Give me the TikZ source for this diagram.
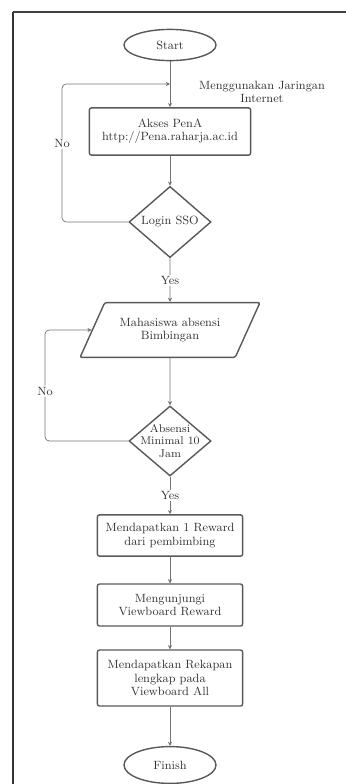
\documentclass[tikz,border=0pt]{standalone}
\usepackage{amssymb, amsmath}
\usepackage{tikz}
\usetikzlibrary{calc, shapes.geometric, arrows.meta}

\tikzset{
  shapeline/.style={draw=black!65, line width=1pt, text=black!80, align=center,
    font=\fontsize{8.5}{9.5}\selectfont, inner sep=1pt},
  terminal/.style={shapeline, ellipse, minimum width=2.3cm, minimum height=0.78cm},
  process/.style={shapeline, rectangle, rounded corners=1.5pt},
  decision/.style={shapeline, diamond, minimum width=2.05cm, minimum height=1.78cm, inner sep=0pt},
  inputbox/.style={shapeline, trapezium, trapezium left angle=54, trapezium right angle=126,
    trapezium stretches=true, minimum width=4.5cm, minimum height=1.37cm, rounded corners=1.5pt},
  flow/.style={draw=black!55, line width=0.5pt, -{Stealth[length=3pt,width=3pt]}},
  loop/.style={flow, rounded corners=3pt},
  lbl/.style={fill=white, inner sep=1pt, text=black!80, font=\fontsize{8.5}{9.5}\selectfont}
}

\begin{document}
\begin{tikzpicture}[x=0.025cm, y=-0.025cm]
  \useasboundingbox (0,0) rectangle (346,784);
  \draw [black!75, line width=0.8pt] (346,12) -- (13,12);
  \draw [black!80, line width=1.6pt] (13,12) -- (13,784);

  % shapes
  \node [terminal] (start) at (170,45) {Start};
  \node [process, minimum width=4.03cm, minimum height=1.18cm] (akses) at (170,131.5)
    {Akses PenA\\http://Pena.raharja.ac.id};
  \node [decision] (login) at (170,222) {Login SSO};
  \node [inputbox] (absen) at (170,330) {Mahasiswa absensi\\Bimbingan};
  \node [decision, minimum height=1.75cm, inner sep=-9pt, font=\fontsize{8}{9}\selectfont]
    (minimal) at (170,441) {Absensi\\Minimal 10\\Jam};
  \node [process, minimum width=3.63cm, minimum height=1.03cm] (reward) at (170,535.5)
    {Mendapatkan 1 Reward\\dari pembimbing};
  \node [process, minimum width=3.63cm, minimum height=1.05cm] (visit) at (170,605)
    {Mengunjungi\\Viewboard Reward};
  \node [process, minimum width=3.63cm, minimum height=1.4cm] (rekap) at (170,678)
    {Mendapatkan Rekapan\\lengkap pada\\Viewboard All};
  \node [terminal, minimum height=0.92cm] (finish) at (170,765) {Finish};

  \node [lbl, align=center] (net) at (262,92) {Menggunakan Jaringan\\Internet};
  \coordinate (join) at (170,84);

  % connectors
  \draw [flow] (start) -- (akses);
  \draw [flow] (akses) -- (login);
  \draw [flow] (login) -- node [lbl] (yes1) {Yes} (absen);
  \draw [flow] (absen) -- (minimal);
  \draw [flow] (minimal) -- node [lbl] (yes2) {Yes} (reward);
  \draw [flow] (reward) -- (visit);
  \draw [flow] (visit) -- (rekap);
  \draw [flow] (rekap) -- (finish);

  \draw [loop] (login.west) -- (62,222) -- node [lbl, pos=0.57] (no1) {No} (62,84) -- (join);
  \draw [loop] (minimal.west) -- (45,441) -- node [lbl, pos=0.45] (no2) {No} (45,330) -- (absen.west);
\end{tikzpicture}
\end{document}
